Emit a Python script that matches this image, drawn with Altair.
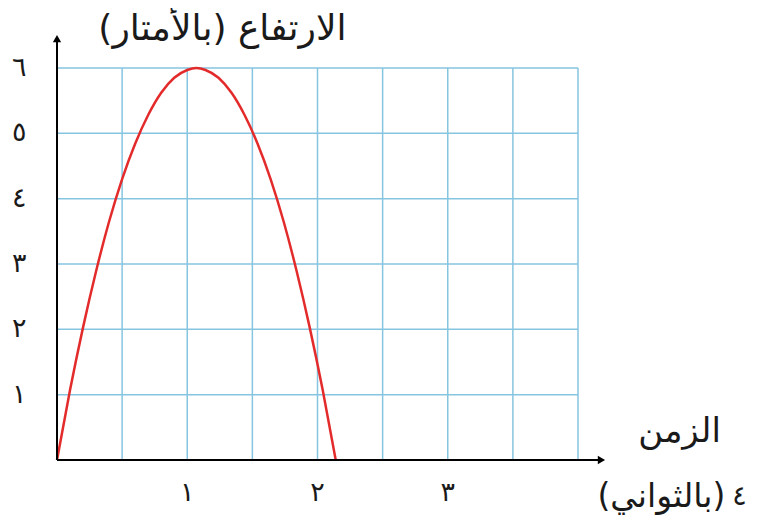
import altair as alt
import pandas as pd

# Curve (time in seconds, height in metres)
curve_t = [0, 0.1, 0.2, 0.3, 0.4, 0.5, 0.6, 0.7, 0.8, 0.9, 1.0, 1.07,
           1.14, 1.24, 1.34, 1.44, 1.54, 1.64, 1.74, 1.84, 1.94, 2.04, 2.14]
curve_h = [0, 1.07, 2.03, 2.89, 3.65, 4.30, 4.84, 5.28, 5.62, 5.85, 5.97, 6.0,
           5.97, 5.85, 5.62, 5.28, 4.84, 4.30, 3.65, 2.89, 2.03, 1.07, 0]

grid_x = [0.5, 1, 1.5, 2, 2.5, 3, 3.5, 4]
grid_y = [1, 2, 3, 4, 5, 6]
x_ticks = [1, 2, 3]
x_tick_labels = ["١", "٢", "٣"]
y_ticks = [1, 2, 3, 4, 5, 6]
y_tick_labels = ["١", "٢", "٣", "٤", "٥", "٦"]

y_title = "\u200fالارتفاع (بالأمتار)\u200f"
x_title_1 = "\u200fالزمن\u200f"
x_title_2 = "\u200f(بالثواني)\u200f"
x_last_label = "٤"

FONT = "DejaVu Sans"
GRID = "#86c5e0"
INK = "#1a1a1a"

xs = alt.Scale(domain=[0, 4], nice=False, zero=False)
ys = alt.Scale(domain=[0, 6], nice=False, zero=False)


def X(f):
    return alt.X(f, type="quantitative", scale=xs, axis=None)


def Y(f):
    return alt.Y(f, type="quantitative", scale=ys, axis=None)


vgrid = alt.Chart(pd.DataFrame({"x": grid_x, "y0": 0, "y1": 6})).mark_rule(
    color=GRID, strokeWidth=1.5).encode(x=X("x"), y=Y("y0"), y2="y1")

hgrid = alt.Chart(pd.DataFrame({"y": grid_y, "x0": 0, "x1": 4})).mark_rule(
    color=GRID, strokeWidth=1.5).encode(y=Y("y"), x=X("x0"), x2="x1")

curve = alt.Chart(pd.DataFrame({"t": curve_t, "h": curve_h})).mark_line(
    color="#e32b2b", strokeWidth=2.5, interpolate="monotone").encode(
    x=X("t"), y=Y("h"), order="t:Q")

yaxis = alt.Chart(pd.DataFrame({"x": [0], "y0": [0], "y1": [6.45]})).mark_rule(
    color="black", strokeWidth=2).encode(x=X("x"), y=Y("y0"), y2="y1")
xaxis = alt.Chart(pd.DataFrame({"y": [0], "x0": [0], "x1": [4.18]})).mark_rule(
    color="black", strokeWidth=2).encode(y=Y("y"), x=X("x0"), x2="x1")

yarrow = alt.Chart(pd.DataFrame({"x": [0], "y": [6.45]})).mark_point(
    shape="triangle-up", filled=True, color="black", size=70, opacity=1).encode(
    x=X("x"), y=Y("y"))
xarrow = alt.Chart(pd.DataFrame({"x": [4.18], "y": [0]})).mark_point(
    shape="triangle-right", filled=True, color="black", size=70, opacity=1).encode(
    x=X("x"), y=Y("y"))

xlab = alt.Chart(pd.DataFrame({"x": x_ticks, "lab": x_tick_labels, "y": -0.5})).mark_text(
    font=FONT, fontSize=27, color=INK).encode(x=X("x"), y=Y("y"), text="lab:N")
ylab = alt.Chart(pd.DataFrame({"y": y_ticks, "lab": y_tick_labels, "x": -0.29})).mark_text(
    font=FONT, fontSize=27, color=INK).encode(x=X("x"), y=Y("y"), text="lab:N")

titles = alt.Chart(pd.DataFrame({
    "x": [1.27, 4.78, 4.64, 5.24],
    "y": [6.6, 0.43, -0.57, -0.57],
    "txt": [y_title, x_title_1, x_title_2, x_last_label],
    "size": [36, 34, 33, 27],
})).mark_text(font=FONT, color=INK).encode(
    x=X("x"), y=Y("y"), text="txt:N",
    size=alt.Size("size:Q", scale=None, legend=None))

chart = alt.layer(vgrid, hgrid, curve, yaxis, xaxis, yarrow, xarrow, xlab, ylab, titles).properties(
    width=521, height=392,
    autosize=alt.AutoSizeParams(type="none"),
    padding={"left": 49, "top": 60, "right": 171, "bottom": 58},
    background="white",
).configure_view(stroke=None)

chart.save("out.html", embed_options={"renderer": "svg", "actions": False})
